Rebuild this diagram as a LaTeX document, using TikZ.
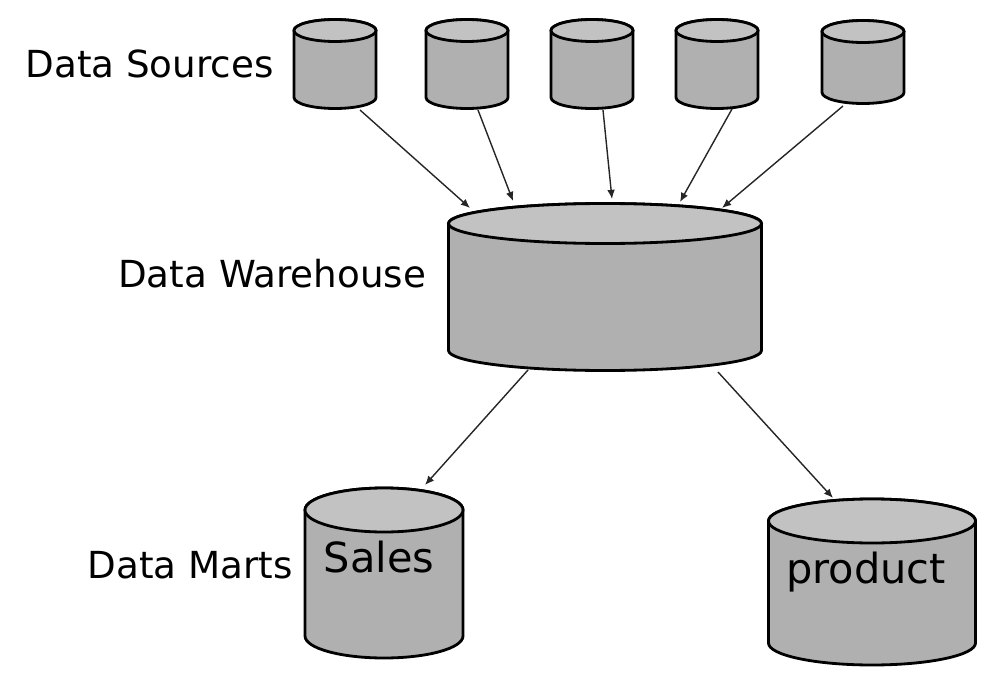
\documentclass[tikz,border=0pt]{standalone}
\usepackage{fontspec}
\setmainfont{DejaVu Sans}
\usetikzlibrary{positioning, arrows.meta, calc}

\newcommand{\pxu}{0.025cm}
% cylinder drawn round a named node: #1 node, #2 radius of the ends (px)
\newcommand{\dbcyl}[2]{%
  \draw[dbline, fill=gray!62] let \p1=(#1.north west), \p2=(#1.south east),
    \n1={(\x2-\x1)/2}, \n2={#2*0.025cm} in
    (\x1,\y1-\n2) -- (\x1,\y2+\n2)
    arc[start angle=180, end angle=360, x radius=\n1, y radius=\n2]
    -- (\x2,\y1-\n2)
    arc[start angle=0, end angle=180, x radius=\n1, y radius=\n2] -- cycle;
  \draw[dbline, fill=gray!48] let \p1=(#1.north west), \p2=(#1.south east),
    \n1={(\x2-\x1)/2}, \n2={#2*0.025cm} in
    (\x1+\n1,\y1-\n2) ellipse [x radius=\n1, y radius=\n2];
}

\begin{document}
\begin{tikzpicture}[
  x=\pxu, y=-\pxu,
  db/.style={rectangle, inner sep=0pt, outer sep=0pt},
  srcdb/.style={db, minimum width=82*\pxu, minimum height=89*\pxu},
  dbline/.style={draw=black, line width=2pt},
  lbl/.style={font=\fontsize{26.5}{30}\selectfont, inner sep=0pt},
  dbtext/.style={font=\fontsize{29.5}{32}\selectfont, inner sep=0pt, anchor=base},
  arrow/.style={-{Latex[length=6.5pt, width=5.5pt]}, line width=1pt, black!85}
]
  \useasboundingbox (0,0) rectangle (1008,684);

  % Nodes
  \node[srcdb] (s1) at (335,64) {};
  \node[srcdb] (s2) at (467,64) {};
  \node[srcdb] (s3) at (592,64) {};
  \node[srcdb] (s4) at (717,64) {};
  \node[srcdb, minimum height=83*\pxu] (s5) at (863,62) {};
  \node[db, minimum width=313*\pxu, minimum height=167*\pxu] (wh) at (605,287) {};
  \node[db, minimum width=158*\pxu, minimum height=170*\pxu] (sales) at (384,573) {};
  \node[db, minimum width=207*\pxu, minimum height=166*\pxu] (product) at (872,582) {};

  \dbcyl{s1}{11} \dbcyl{s2}{11} \dbcyl{s3}{11} \dbcyl{s4}{11} \dbcyl{s5}{11}
  \dbcyl{wh}{20}
  \dbcyl{sales}{22}
  \dbcyl{product}{22}

  % Texts
  \node[lbl, anchor=base east] (srclbl) at ($(s1.west)+(-20,13)$) {Data Sources};
  \node[lbl, anchor=base east] (whlbl) at ($(wh.west)+(-22,0)$) {Data Warehouse};
  \node[lbl, anchor=base east] (martlbl) at ($(sales.west)+(-12,5)$) {Data Marts};
  \node[dbtext] (salestxt) at ($(sales.center)+(-5,-1)$) {Sales};
  \node[dbtext] (producttxt) at ($(product.center)+(-6,1)$) {product};

  % Edges
  \draw[arrow] ($(s1.center)+(25,46)$) -- ($(wh.center)+(-135,-79)$);
  \draw[arrow] ($(s2.center)+(11,46)$) -- ($(wh.center)+(-92,-86)$);
  \draw[arrow] ($(s3.center)+(11,46)$) -- ($(wh.center)+(7,-88)$);
  \draw[arrow] ($(s4.center)+(15,45)$) -- ($(wh.center)+(75,-85)$);
  \draw[arrow] ($(s5.center)+(-20,44)$) -- ($(wh.center)+(117,-79)$);
  \draw[arrow] ($(wh.center)+(-77,83)$) -- ($(sales.center)+(41,-88)$);
  \draw[arrow] ($(wh.center)+(113,85)$) -- ($(product.center)+(-39,-84)$);

\end{tikzpicture}
\end{document}
